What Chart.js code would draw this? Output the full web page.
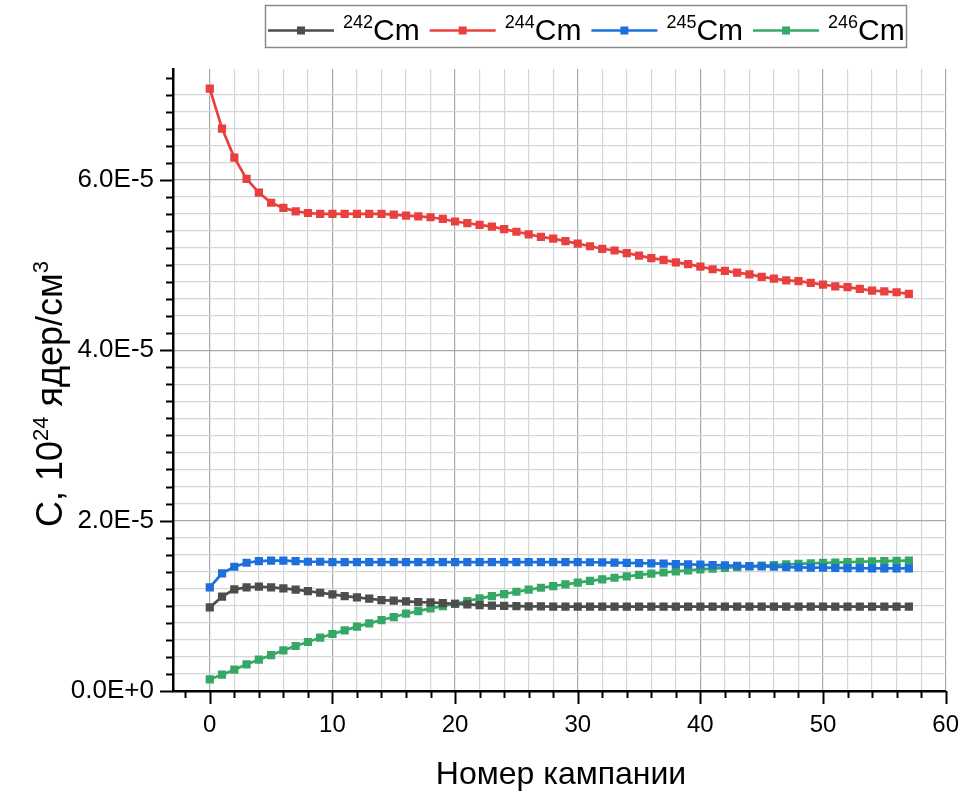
<!DOCTYPE html>
<html>
<head>
<meta charset="utf-8">
<title>Cm isotopes vs campaign</title>
<script src="https://cdn.jsdelivr.net/npm/chart.js@4/dist/chart.umd.min.js"></script>
<style>
  html, body { margin: 0; padding: 0; background: #fff; }
  #wrap { width: 979px; height: 793px; }
</style>
</head>
<body>
<div id="wrap"><canvas id="c" width="979" height="793"></canvas></div>
<script>
// Campaign numbers (x axis)
const campaigns = [0,1,2,3,4,5,6,7,8,9,10,11,12,13,14,15,16,17,18,19,20,21,22,23,24,25,26,27,28,29,
  30,31,32,33,34,35,36,37,38,39,40,41,42,43,44,45,46,47,48,49,50,51,52,53,54,55,56,57];

// Nuclide concentrations, 10^24 nuclei/cm^3
const cm242 = [0.981e-5,1.107e-5,1.193e-5,1.216e-5,1.224e-5,1.216e-5,1.204e-5,1.189e-5,1.173e-5,1.153e-5,
  1.134e-5,1.114e-5,1.099e-5,1.083e-5,1.067e-5,1.060e-5,1.052e-5,1.044e-5,1.040e-5,1.032e-5,
  1.024e-5,1.017e-5,1.009e-5,1.003e-5,0.998e-5,0.995e-5,0.993e-5,0.992e-5,0.990e-5,0.990e-5,
  0.990e-5,0.990e-5,0.990e-5,0.990e-5,0.990e-5,0.990e-5,0.990e-5,0.990e-5,0.990e-5,0.990e-5,
  0.990e-5,0.990e-5,0.990e-5,0.990e-5,0.990e-5,0.990e-5,0.990e-5,0.990e-5,0.990e-5,0.990e-5,
  0.990e-5,0.990e-5,0.990e-5,0.990e-5,0.990e-5,0.990e-5,0.990e-5,0.990e-5];

const cm244 = [7.07e-5,6.60e-5,6.26e-5,6.01e-5,5.85e-5,5.73e-5,5.67e-5,5.63e-5,5.61e-5,5.60e-5,
  5.60e-5,5.60e-5,5.60e-5,5.60e-5,5.60e-5,5.59e-5,5.58e-5,5.57e-5,5.56e-5,5.54e-5,
  5.51e-5,5.49e-5,5.47e-5,5.45e-5,5.42e-5,5.39e-5,5.36e-5,5.33e-5,5.31e-5,5.28e-5,
  5.25e-5,5.22e-5,5.19e-5,5.17e-5,5.14e-5,5.11e-5,5.08e-5,5.06e-5,5.03e-5,5.01e-5,
  4.98e-5,4.95e-5,4.93e-5,4.91e-5,4.89e-5,4.86e-5,4.84e-5,4.82e-5,4.81e-5,4.79e-5,
  4.77e-5,4.75e-5,4.74e-5,4.72e-5,4.70e-5,4.69e-5,4.68e-5,4.66e-5];

const cm245 = [1.216e-5,1.380e-5,1.458e-5,1.505e-5,1.525e-5,1.529e-5,1.529e-5,1.525e-5,1.517e-5,1.517e-5,
  1.513e-5,1.513e-5,1.513e-5,1.513e-5,1.513e-5,1.513e-5,1.513e-5,1.513e-5,1.513e-5,1.513e-5,
  1.513e-5,1.513e-5,1.513e-5,1.513e-5,1.513e-5,1.513e-5,1.513e-5,1.513e-5,1.513e-5,1.513e-5,
  1.513e-5,1.511e-5,1.509e-5,1.506e-5,1.503e-5,1.500e-5,1.497e-5,1.494e-5,1.490e-5,1.486e-5,
  1.482e-5,1.478e-5,1.474e-5,1.470e-5,1.466e-5,1.462e-5,1.458e-5,1.455e-5,1.452e-5,1.449e-5,
  1.447e-5,1.445e-5,1.443e-5,1.441e-5,1.440e-5,1.439e-5,1.439e-5,1.439e-5];

const cm246 = [0.137e-5,0.192e-5,0.250e-5,0.313e-5,0.368e-5,0.422e-5,0.477e-5,0.528e-5,0.575e-5,0.626e-5,
  0.669e-5,0.712e-5,0.755e-5,0.794e-5,0.833e-5,0.868e-5,0.907e-5,0.938e-5,0.970e-5,0.997e-5,
  1.024e-5,1.056e-5,1.087e-5,1.114e-5,1.138e-5,1.165e-5,1.189e-5,1.212e-5,1.232e-5,1.251e-5,
  1.272e-5,1.292e-5,1.311e-5,1.329e-5,1.346e-5,1.362e-5,1.377e-5,1.391e-5,1.404e-5,1.416e-5,
  1.427e-5,1.437e-5,1.446e-5,1.455e-5,1.463e-5,1.471e-5,1.478e-5,1.485e-5,1.491e-5,1.497e-5,
  1.503e-5,1.508e-5,1.513e-5,1.517e-5,1.521e-5,1.525e-5,1.528e-5,1.531e-5];

// Legend entries: mass number (superscript) + element symbol
const massNumbers = ['242', '244', '245', '246'];
const element = 'Cm';
const seriesColors = ['#4d4d4d', '#e8403f', '#1d6fdc', '#36a866'];
const seriesValues = [cm242, cm244, cm245, cm246];

const xTitle = 'Номер кампании';
const yTitleParts = ['C, 10', '24', ' ядер/см', '3'];

const FONT = '"Liberation Sans", Arial, sans-serif';

const toPoints = (vals) => campaigns.map((x, i) => ({ x: x, y: vals[i] }));

const datasets = seriesValues.map((vals, i) => ({
  label: massNumbers[i] + element,
  data: toPoints(vals),
  borderColor: seriesColors[i],
  backgroundColor: seriesColors[i],
  borderWidth: 2.7,
  pointStyle: 'rect',
  pointRadius: 5.8,
  pointHoverRadius: 5.8,
  pointBorderWidth: 0,
  tension: 0
}));

const Y_MINOR = 2e-6, Y_MAJOR = 2e-5;
const onStep = (v, step) => Math.abs(v / step - Math.round(v / step)) < 1e-6;

// Text runs alternating normal / superscript pieces
function richWidth(ctx, parts, big, small) {
  let w = 0;
  parts.forEach((p, i) => {
    ctx.font = (i % 2 ? small : big) + 'px ' + FONT;
    w += ctx.measureText(p).width;
  });
  return w;
}
function drawRich(ctx, parts, x, y, big, small, supRise) {
  let cx = x;
  parts.forEach((p, i) => {
    const sup = i % 2 === 1;
    ctx.font = (sup ? small : big) + 'px ' + FONT;
    ctx.fillText(p, cx, sup ? y - supRise : y);
    cx += ctx.measureText(p).width;
  });
  return cx;
}

const decorations = {
  id: 'decorations',
  afterDraw(chart) {
    const ctx = chart.ctx;
    const xs = chart.scales.x, ys = chart.scales.y;
    const area = chart.chartArea;
    ctx.save();
    ctx.strokeStyle = '#000';
    ctx.lineWidth = 2;

    // axis tick marks, outward
    for (let v = -2; v <= 60; v += 2) {
      const px = Math.round(xs.getPixelForValue(v)) + 0.5;
      const len = v % 10 === 0 ? 13 : 7;
      ctx.beginPath();
      ctx.moveTo(px, area.bottom);
      ctx.lineTo(px, area.bottom + len);
      ctx.stroke();
    }
    for (let k = 0; k * Y_MINOR <= ys.max + 1e-12; k++) {
      const py = Math.round(ys.getPixelForValue(k * Y_MINOR)) + 0.5;
      const len = k % 10 === 0 ? 13 : 7;
      ctx.beginPath();
      ctx.moveTo(area.left, py);
      ctx.lineTo(area.left - len, py);
      ctx.stroke();
    }

    ctx.fillStyle = '#000';
    ctx.textBaseline = 'alphabetic';

    // x axis title
    ctx.font = '32px ' + FONT;
    ctx.textAlign = 'center';
    ctx.fillText(xTitle, 561, 784);
    ctx.textAlign = 'left';

    // y axis title, rotated
    ctx.save();
    const ytW = richWidth(ctx, yTitleParts, 36, 22);
    ctx.translate(62, 394);
    ctx.rotate(-Math.PI / 2);
    drawRich(ctx, yTitleParts, -ytW / 2, 0, 36, 22, 14);
    ctx.restore();

    // legend box
    ctx.lineWidth = 1.5;
    ctx.strokeStyle = '#8a8a8a';
    ctx.strokeRect(265.5, 5.5, 641, 42);
    let lx = 268;
    const lineY = 30.5;
    chart.data.datasets.forEach((ds, i) => {
      ctx.strokeStyle = ds.borderColor;
      ctx.lineWidth = 2.5;
      ctx.beginPath();
      ctx.moveTo(lx, lineY);
      ctx.lineTo(lx + 66, lineY);
      ctx.stroke();
      ctx.fillStyle = ds.backgroundColor;
      ctx.fillRect(lx + 33 - 4, lineY - 4, 8, 8);
      ctx.fillStyle = '#000';
      const end = drawRich(ctx, ['', massNumbers[i], element], lx + 75, 40, 30, 18, 12);
      lx = end + 10;
    });
    ctx.restore();
  }
};

const gridColor = (major) => major ? '#a9a9a9' : '#d6d6d6';

new Chart(document.getElementById('c'), {
  type: 'line',
  data: { datasets: datasets },
  options: {
    responsive: false,
    animation: false,
    devicePixelRatio: 1,
    layout: { padding: { top: 69, right: 31, left: 0, bottom: 0 } },
    plugins: {
      legend: { display: false },
      tooltip: { enabled: false }
    },
    scales: {
      x: {
        type: 'linear',
        min: -3,
        max: 60,
        afterFit: (s) => { s.height = 102; },
        border: { display: true, color: '#000', width: 2.5 },
        grid: {
          drawTicks: false,
          lineWidth: 1.2,
          color: (c) => {
            const v = c.tick.value;
            if (!onStep(v, 2) || v <= -3) return 'rgba(0,0,0,0)';
            return gridColor(v % 10 === 0);
          }
        },
        ticks: {
          stepSize: 2,
          autoSkip: false,
          maxRotation: 0,
          padding: 20,
          color: '#000',
          font: { family: FONT, size: 24 },
          callback: (v) => (onStep(v, 10) ? String(Math.round(v)) : '')
        }
      },
      y: {
        type: 'linear',
        min: 0,
        max: 7.3e-5,
        afterFit: (s) => { s.width = 173; },
        border: { display: true, color: '#000', width: 2.5 },
        grid: {
          drawTicks: false,
          lineWidth: 1.2,
          color: (c) => {
            const v = c.tick.value;
            if (!onStep(v, Y_MINOR) || v <= 0) return 'rgba(0,0,0,0)';
            return gridColor(onStep(v, Y_MAJOR));
          }
        },
        ticks: {
          stepSize: Y_MINOR,
          autoSkip: false,
          padding: 19,
          color: '#000',
          font: { family: FONT, size: 26 },
          callback: (v) => (onStep(v, Y_MAJOR) ? v.toExponential(1).toUpperCase() : '')
        }
      }
    }
  },
  plugins: [decorations]
});
</script>
</body>
</html>
